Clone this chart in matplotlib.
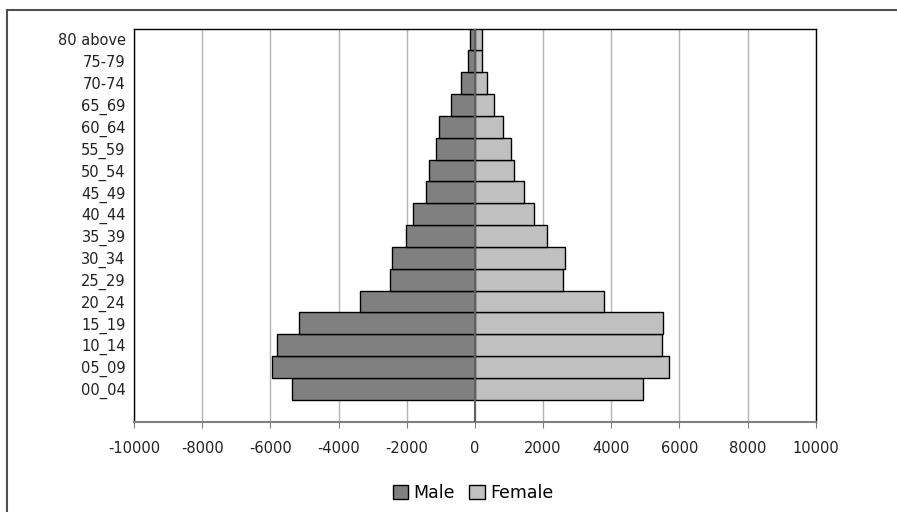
import matplotlib
matplotlib.use('Agg')
import matplotlib.pyplot as plt
from matplotlib.lines import Line2D
import numpy as np

# age groups, bottom to top
age_groups = ['00_04', '05_09', '10_14', '15_19', '20_24', '25_29', '30_34',
              '35_39', '40_44', '45_49', '50_54', '55_59', '60_64', '65_69',
              '70-74', '75-79', '80 above']
male = [-5360, -5960, -5810, -5145, -3365, -2485, -2445, -2015, -1810,
        -1430, -1350, -1135, -1055, -705, -420, -205, -140]
female = [4940, 5690, 5505, 5515, 3775, 2590, 2640, 2130, 1750,
          1440, 1145, 1065, 820, 575, 360, 215, 215]
x_ticks = [-10000, -8000, -6000, -4000, -2000, 0, 2000, 4000, 6000, 8000, 10000]

plt.rcParams['font.family'] = ['DejaVu Sans']

fig = plt.figure(figsize=(8.97, 5.12), dpi=100)
ax = fig.add_axes([134 / 897, 1 - 421.7 / 512, (815.7 - 134) / 897, (421.7 - 28.5) / 512])

y = np.arange(len(age_groups))
ax.barh(y, male, height=1.0, color='#808080', edgecolor='black', linewidth=1, label='Male', zorder=3)
ax.barh(y, female, height=1.0, color='#c0c0c0', edgecolor='black', linewidth=1, label='Female', zorder=3)
ax.axvline(0, color='#606060', linewidth=1.5, zorder=4)

ax.set_xlim(-10000, 10000)
ax.set_ylim(-1.5, len(age_groups) - 0.5)
ax.set_xticks(x_ticks)
ax.set_xticklabels([str(t) for t in x_ticks], fontsize=10.5, color='#222222')
ax.set_yticks(y)
ax.set_yticklabels(age_groups, fontsize=10.5, color='#222222')
ax.tick_params(axis='y', length=0, pad=6)
ax.tick_params(axis='x', length=4, color='#808080', pad=10)
ax.grid(axis='x', color='#b4b4b4', linewidth=1, zorder=0)
ax.set_axisbelow(True)

for side in ['top', 'right', 'left']:
    ax.spines[side].set_color('black')
    ax.spines[side].set_linewidth(1)
ax.spines['bottom'].set_color('#808080')
ax.spines['bottom'].set_linewidth(1.5)

fig.legend(loc='center', bbox_to_anchor=(473 / 897, 1 - 493 / 512), ncol=2,
           frameon=False, fontsize=12.5, handlelength=0.9, handleheight=0.9,
           handletextpad=0.3, columnspacing=0.8)

# outer chart frame (top and left edges)
fig.add_artist(Line2D([7 / 897, 1], [1 - 9.5 / 512, 1 - 9.5 / 512], color='#505050', linewidth=1.5))
fig.add_artist(Line2D([7 / 897, 7 / 897], [0, 1 - 9.5 / 512], color='#505050', linewidth=1.5))

fig.savefig('out.png', dpi=100)
